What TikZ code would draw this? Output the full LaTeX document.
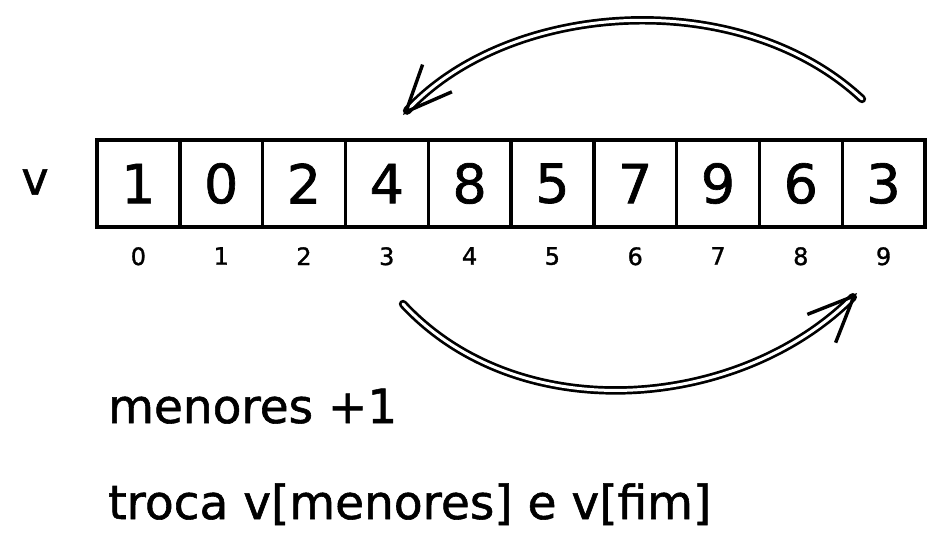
\documentclass[tikz,border=0pt]{standalone}
\usepackage{fontspec}
\setmainfont[FakeBold=1.2]{DejaVu Sans}
\usetikzlibrary{arrows.meta,positioning}
\tikzset{
  cell/.style={draw, line width=3.4pt, minimum width=82.8pt, minimum height=87pt,
    inner sep=0pt, outer sep=0pt, font=\fontsize{54}{54}\selectfont},
  idx/.style={inner sep=0pt, font=\fontsize{24}{24}\selectfont},
  passo/.style={anchor=base west, inner sep=0pt, font=\fontsize{47}{47}\selectfont},
  swaparrow/.style={double, line width=2.7pt, double distance=3pt, line cap=round,
    -{Straight Barb[length=46pt,width=40pt,line width=3.4pt]}}
}

\begin{document}
\begin{tikzpicture}[x=1pt,y=-1pt]
	\useasboundingbox (0,0) rectangle (946,560);
	%%  vetor v  %%%%%%%%
	\node[font=\fontsize{46}{46}\selectfont] (nome) at (35,182) {v};
	\foreach \val [count=\i from 0] in {1,0,2,4,8,5,7,9,6,3}{
		\node[cell] (c\i) at ({138.4+82.8*\i},183.5) {\val};
		\node[idx, below=20pt of c\i] (i\i) {\i};
	}
	%%  trocas  %%%%%%%%
	\coordinate (ini9) at (862,99);
	\coordinate (fim3) at (403,115);
	\coordinate (ini3) at (403,304);
	\coordinate (fim9) at (857,293);
	\draw[swaparrow] (ini9) .. controls (740,-15) and (510,0) .. (fim3);
	\draw[swaparrow] (ini3) .. controls (520,430) and (740,410) .. (fim9);
	%%  passos  %%%%%%%%
	\node[passo] (passo1) at (108,423) {menores +1};
	\node[passo] (passo2) at (108,519) {troca v[menores] e v[fim]};
	%%%%%%%%%%%%%%%
\end{tikzpicture}
\end{document}
